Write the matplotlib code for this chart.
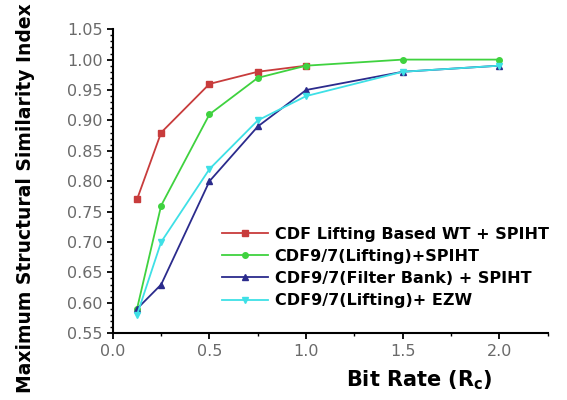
import numpy as np
import matplotlib.pyplot as plt
from matplotlib.ticker import MultipleLocator

plt.rcParams['font.family'] = ['DejaVu Sans']

bit_rate_red = [0.125, 0.25, 0.5, 0.75, 1.0]
ssim_red = [0.77, 0.88, 0.96, 0.98, 0.99]

bit_rate = [0.125, 0.25, 0.5, 0.75, 1.0, 1.5, 2.0]
ssim_green = [0.59, 0.76, 0.91, 0.97, 0.99, 1.00, 1.00]
ssim_blue = [0.59, 0.63, 0.80, 0.89, 0.95, 0.98, 0.99]
ssim_cyan = [0.58, 0.70, 0.82, 0.90, 0.94, 0.98, 0.99]

labels = ['CDF Lifting Based WT + SPIHT',
          'CDF9/7(Lifting)+SPIHT',
          'CDF9/7(Filter Bank) + SPIHT',
          'CDF9/7(Lifting)+ EZW']

fig = plt.figure(figsize=(5.67, 4.0), dpi=100)
ax = fig.add_axes([0.199, 0.167, 0.767, 0.76])

ax.plot(bit_rate_red, ssim_red, color='#c83c3c', marker='s', ms=4, lw=1.3, label=labels[0])
ax.plot(bit_rate, ssim_green, color='#3fd23f', marker='o', ms=4, lw=1.3, label=labels[1])
ax.plot(bit_rate, ssim_blue, color='#2b2b8c', marker='^', ms=4.5, lw=1.3, label=labels[2])
ax.plot(bit_rate, ssim_cyan, color='#3ee0e6', marker='v', ms=4.5, lw=1.3, label=labels[3])

ax.set_xlim(0, 2.25)
ax.set_ylim(0.55, 1.05)
ax.xaxis.set_major_locator(MultipleLocator(0.5))
ax.xaxis.set_minor_locator(MultipleLocator(0.25))
ax.yaxis.set_major_locator(MultipleLocator(0.05))
ax.yaxis.set_minor_locator(MultipleLocator(0.01))
ax.xaxis.set_major_formatter(plt.FormatStrFormatter('%.1f'))
ax.yaxis.set_major_formatter(plt.FormatStrFormatter('%.2f'))

ax.spines['top'].set_visible(False)
ax.spines['right'].set_visible(False)
ax.spines['left'].set_linewidth(1.5)
ax.spines['bottom'].set_linewidth(1.5)
ax.tick_params(axis='both', which='major', direction='out', length=4, width=1.3,
               labelsize=11.5, labelcolor='#6a6a6a')
ax.tick_params(axis='both', which='minor', direction='out', length=2.5, width=1)

ax.set_xlabel('Bit Rate (R$_\\mathregular{c}$)', fontsize=15, fontweight='bold')
ax.set_ylabel('Maximum Structural Similarity Index', fontsize=13.5, fontweight='bold')
ax.xaxis.set_label_coords(0.705, -0.115)
ax.yaxis.set_label_coords(-0.18, 0.445)

leg = ax.legend(loc='lower right', bbox_to_anchor=(1.035, 0.035), frameon=False,
                prop={'weight': 'bold', 'size': 11.5}, handlelength=2.9,
                labelspacing=0.45, handletextpad=0.4)

plt.savefig('out.png', dpi=100)
